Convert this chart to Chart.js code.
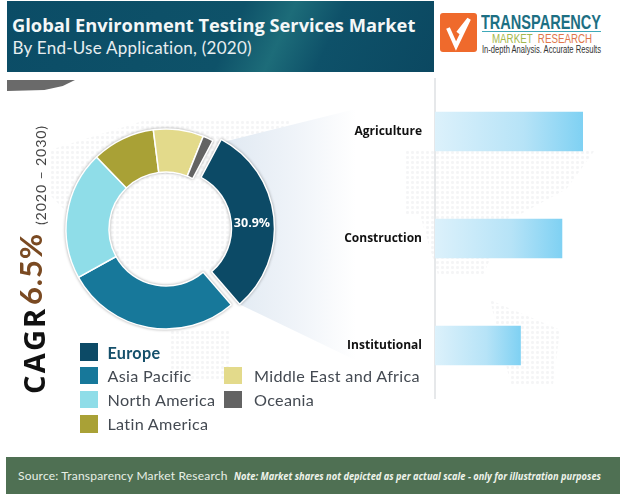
<!DOCTYPE html>
<html><head><meta charset="utf-8">
<script src="https://cdn.jsdelivr.net/npm/chart.js@4"></script>
<style>
html,body{margin:0;padding:0;background:#fff;}
#page{position:relative;width:620px;height:494px;overflow:hidden;background:#fff;font-family:Lato,sans-serif;}
#page>*{position:absolute;}
.dots{background-image:radial-gradient(circle,rgba(130,140,150,.085) 1.3px,transparent 1.6px);background-size:5px 5px;}
#band{left:7px;top:1px;width:427px;height:71px;background:linear-gradient(115deg,#0b4c66 0%,#0e5269 52%,#1d6c79 63%,#0e5169 74%,#0b4861 100%);}
#swoosh{left:7px;top:80px;width:68px;height:11px;background:#6a6a6a;clip-path:polygon(0 0,100% 0,82% 55%,55% 90%,0 100%);}
#wedge{left:224px;top:89px;width:212px;height:310px;background:linear-gradient(90deg,#e0e9f2 0%,#f0f4f9 35%,rgba(255,255,255,0) 62%);clip-path:polygon(0 17%,100% 0,100% 100%,6% 69%);}
.t{white-space:nowrap;}
#donut{left:46px;top:109px;width:240px;height:240px;filter:drop-shadow(0 0 1.5px rgba(0,0,0,.35));}
#bars{left:300px;top:78px;width:320px;height:321px;}
.lg{font-size:16.2px;color:#444a52;line-height:20px;letter-spacing:.3px;}
#foot{left:6px;top:457px;width:614px;height:37px;background:#4f7053;}
.fit{transform-origin:0 0;}
</style></head><body>
<div id="page">
<div class="dots" style="left:50px;top:120px;width:240px;height:150px;clip-path:polygon(0 20%,40% 0,100% 0,100% 100%,30% 100%,0 50%);"></div>
<div class="dots" style="left:405px;top:150px;width:190px;height:65px;clip-path:polygon(0 0,100% 0,85% 60%,60% 100%,0 100%);"></div>
<div class="dots" style="left:420px;top:215px;width:90px;height:60px;clip-path:polygon(0 0,100% 0,70% 100%,20% 100%);"></div>
<div class="dots" style="left:490px;top:300px;width:70px;height:85px;clip-path:polygon(0 0,100% 35%,90% 100%,30% 100%);"></div>
<div class="dots" style="left:170px;top:330px;width:60px;height:50px;"></div>
<div id="wedge"></div>
<div id="band"></div>
<div class="t" id="title" style="left:12px;top:12px;font:bold 18.3px 'Open Sans',sans-serif;color:#f4f7f7;">Global Environment Testing Services Market</div>
<div class="t" id="sub" style="left:12.6px;top:37px;font:17px Lato,sans-serif;color:#e8eef0;letter-spacing:.25px;">By End-Use Application, (2020)</div>
<svg style="left:440px;top:13px" width="37" height="39" viewBox="0 0 37 39"><rect width="37" height="39" rx="3" fill="#ef6a2c"/><path d="M8 15 L16 33 L29 6 L18 20" fill="none" stroke="#fff" stroke-width="4"/></svg>
<div class="t fit" data-w="120" style="left:481px;top:11px;font:bold 20px 'Liberation Sans',sans-serif;color:#1d6f83;">TRANSPARENCY</div>
<div style="left:482px;top:31px;width:119px;height:1px;background:#3fa9b9;"></div>
<div class="t fit" data-w="100" style="left:492px;top:32px;font:12.5px 'Liberation Sans',sans-serif;color:#a3b84d;">MARKET <span style="color:#e0764a">&nbsp;RESEARCH</span></div>
<div class="t fit" data-w="119" style="left:482px;top:44px;font:10px 'Liberation Sans',sans-serif;color:#333;">In-depth Analysis. Accurate Results</div>
<div id="swoosh"></div>
<div style="left:434px;top:78px;width:2px;height:321px;background:#e6e8ea;"></div>
<canvas id="donut" width="240" height="240"></canvas>
<canvas id="bars" width="320" height="321"></canvas>
<div class="t" style="left:31px;top:394px;font:bold 29px 'Open Sans',sans-serif;letter-spacing:2.2px;color:#111;transform-origin:0 0;transform:rotate(-90deg) translate(0,-17px);">CAGR</div>
<div class="t" style="left:38px;top:305px;font:bold 31px Lato,sans-serif;color:#7a4a22;transform-origin:0 0;transform:rotate(-90deg) translate(0,-27px);letter-spacing:.8px;">6.5%</div>
<div class="t" style="left:53px;top:225px;font:14.3px Lato,sans-serif;color:#444;transform-origin:0 0;transform:rotate(-90deg) translate(0,-21px);letter-spacing:.8px;">(2020 – 2030)</div>
<div id="legend" style="left:0;top:0"></div>
<div id="foot"></div>
<div class="t" style="left:18px;top:468px;font:12px Lato,sans-serif;color:#e8efe6;letter-spacing:.2px;">Source: Transparency Market Research</div>
<div class="t fit" data-w="367" style="left:234px;top:469px;font:italic bold 10.5px 'Open Sans',sans-serif;color:#eef3ea;">Note: Market shares not depicted as per actual scale - only for illustration purposes</div>
</div>
<script>
const regions = ["Europe","Asia Pacific","North America","Latin America","Middle East and Africa","Oceania"];
const shares = [30.9,28.3,20.8,10.2,8.1,1.7];
const regionColors = ["#0c4a66","#17789a","#8fdde8","#a9a136","#e3da8b","#636363"];
const sliceOffsets = [32,0,0,0,0,0];
const uses = ["Agriculture","Construction","Institutional"];
const useValues = [100,86,58];

document.querySelectorAll('.fit').forEach(e=>{
  const w=e.getBoundingClientRect().width;
  e.style.transform=`scaleX(${(+e.dataset.w)/w})`;
});

const legendPlaces = [[80,343,107.5,343,18],[80,367,107.5,366,17],[80,391,107.5,390,17],[80,415,107.5,414,18],[224,367,254,366,17],[224,391,254,390,17]];
const lg = document.getElementById('legend');
regions.forEach((r,i)=>{
  const [sx,sy,tx,ty,h]=legendPlaces[i];
  const s=document.createElement('div');
  s.style.cssText=`position:absolute;left:${sx}px;top:${sy}px;height:${h}px;width:18px;background:${regionColors[i]}`;
  const t=document.createElement('div');t.className='t lg';t.textContent=r;
  t.style.cssText=`position:absolute;left:${tx}px;top:${ty}px;`+(i==0?'font-weight:bold;color:#15506b;':'');
  lg.appendChild(s);lg.appendChild(t);
});

Chart.defaults.animation=false;
Chart.defaults.devicePixelRatio=1;

const sliceLabel={id:'sliceLabel',
 afterDatasetsDraw(c){
  const a=c.getDatasetMeta(0).data[0];
  const mid=(a.startAngle+a.endAngle)/2, r=(a.innerRadius+a.outerRadius)/2+sliceOffsets[0]/4;
  const g=c.ctx;g.save();g.font="bold 12.5px 'Open Sans',sans-serif";g.fillStyle='#fff';g.textAlign='center';g.textBaseline='middle';
  g.fillText(shares[0].toFixed(1)+'%',a.x+Math.cos(mid)*r,a.y+Math.sin(mid)*r+4);g.restore();
}};
new Chart(document.getElementById('donut'),{type:'doughnut',
  data:{labels:regions,datasets:[{data:shares,backgroundColor:regionColors,borderColor:'#fff',borderWidth:1.5,offset:sliceOffsets}]},
  options:{responsive:false,rotation:28,radius:100,cutout:'57%',layout:{padding:0},plugins:{legend:{display:false},tooltip:{enabled:false}}},
  plugins:[sliceLabel]});

new Chart(document.getElementById('bars'),{type:'bar',
  data:{labels:uses,datasets:[{data:useValues,barPercentage:.37,categoryPercentage:1,
    backgroundColor(ctx){
      const {chart,dataIndex}=ctx;const a=chart.chartArea;if(!a)return '#9ad';
      const x=chart.scales.x;
      const g=chart.ctx.createLinearGradient(x.getPixelForValue(0),0,x.getPixelForValue(useValues[dataIndex]),0);
      g.addColorStop(0,'#dcf1fb');g.addColorStop(.6,'#b6e3f7');g.addColorStop(1,'#7fd1f3');return g;
    }}]},
  options:{indexAxis:'y',responsive:false,layout:{padding:0,autoPadding:false},
    scales:{
      x:{display:false,min:0,max:125},
      y:{afterFit(s){s.width=135;s.paddingTop=0;s.paddingBottom=0;},grid:{display:false},border:{display:false},
         ticks:{color:'#111',padding:5,font:{family:"'Open Sans',sans-serif",weight:'bold',size:12}}}
    },
    plugins:{legend:{display:false},tooltip:{enabled:false}}}});
</script>
</body></html>
